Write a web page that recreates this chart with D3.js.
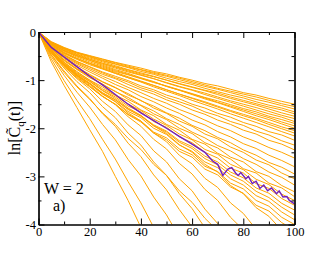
<!DOCTYPE html>
<html>
<head>
<meta charset="utf-8">
<script src="https://cdn.jsdelivr.net/npm/d3@7"></script>
<style>
  body { margin: 0; background: #fff; }
  svg { display: block; }
</style>
</head>
<body>
<script>
// sample times for the orange runs
const times = [0, 5, 10, 15, 20, 25, 30, 35, 40, 45, 50, 55, 60, 65, 70, 75, 80, 85, 90, 95, 100];

// orange runs: -ln C(t) in hundredths, one row per run
const orangeRuns = [
  [0,20,32,42,49,56,63,69,75,82,87,94,100,107,112,119,126,131,138,144,150],
  [0,21,33,43,50,57,64,71,78,84,90,96,103,110,117,123,129,135,142,149,155],
  [0,21,34,43,51,59,66,73,79,86,92,99,106,113,119,126,133,140,146,153,160],
  [0,22,34,44,52,60,67,74,82,88,96,103,109,117,124,131,137,145,152,158,166],
  [0,24,38,49,57,65,72,79,87,93,100,107,114,121,127,135,142,149,156,162,170],
  [0,22,35,46,54,62,70,78,85,92,100,108,115,122,130,138,145,152,160,168,175],
  [0,25,39,50,59,67,75,83,90,97,105,113,120,127,135,143,150,157,165,173,180],
  [0,22,36,47,56,65,73,81,89,97,106,114,121,130,138,146,154,162,170,177,186],
  [0,28,44,55,65,73,82,89,97,105,112,120,128,136,143,151,159,166,175,182,190],
  [0,25,40,52,62,71,80,88,96,104,113,121,129,137,146,154,162,170,178,187,195],
  [0,23,38,49,59,69,78,86,95,103,113,121,130,139,147,156,165,174,182,191,200],
  [0,28,45,57,68,77,86,95,103,111,120,129,137,145,154,163,171,179,188,197,205],
  [0,26,42,55,65,75,84,93,102,111,120,129,138,147,156,165,174,182,192,201,210],
  [0,26,43,55,66,76,86,95,104,114,123,132,142,151,160,170,179,188,197,207,216],
  [0,30,47,61,72,83,92,101,112,120,131,139,150,158,169,177,188,196,207,214,225],
  [0,30,48,62,73,85,95,104,116,124,136,145,154,166,174,186,194,206,214,226,235],
  [0,31,49,64,76,88,97,109,120,129,141,150,162,171,183,192,204,212,225,233,245],
  [0,31,51,66,79,92,103,115,126,138,148,161,171,183,195,205,218,228,240,250,262],
  [0,32,53,69,83,96,109,120,134,145,158,169,183,193,207,218,232,242,256,267,280],
  [0,35,58,76,90,104,116,128,143,154,168,179,194,205,219,230,245,256,271,281,295],
  [0,34,55,73,88,103,115,131,142,158,169,185,196,212,222,239,250,266,276,293,305],
  [0,36,60,78,95,108,124,136,152,164,180,192,208,220,236,247,263,275,291,302,318],
  [0,35,58,77,93,110,123,140,153,170,182,200,211,230,241,260,270,290,300,319,332],
  [0,38,63,82,100,114,131,144,162,174,192,204,223,233,252,264,284,293,314,324,342],
  [0,38,63,84,100,118,132,150,163,181,194,212,224,244,254,275,286,306,317,337,350],
  [0,39,64,86,102,121,135,154,166,186,198,218,230,250,262,283,293,315,325,346,360],
  [0,42,69,91,108,127,141,160,174,193,206,226,238,258,270,291,303,324,335,356,370],
  [0,40,66,89,106,126,141,161,175,195,208,229,242,263,276,297,310,331,344,364,380],
  [0,40,67,90,108,129,144,165,178,200,213,235,248,270,282,305,318,340,352,374,390],
  [0,43,72,95,114,134,150,171,185,208,220,243,255,279,290,314,326,350,362,385,400],
  [0,41,70,93,113,134,150,172,187,210,224,248,260,285,297,322,335,360,372,396,412],
  [0,40,66,87,103,122,138,158,173,195,211,234,250,275,291,319,336,365,383,412,435],
  [0,40,67,89,107,128,145,168,185,210,228,256,274,304,323,355,377,410,433,465,495],
  [0,41,69,91,111,133,151,176,196,223,243,273,295,327,350,385,411,446,478,510,545],
  [0,43,72,97,118,144,165,193,215,247,270,305,330,368,398,433,469,505,540,580,620],
  [0,48,84,114,140,168,192,221,244,275,298,330,354,387,413,442,470,500,530,560,590],
  [0,47,81,112,138,170,196,231,259,297,328,369,405,445,485,525,570,615,660,705,750],
  [0,51,90,125,156,192,224,265,299,343,380,426,470,515,560,605,650,695,740,785,830],
  [0,56,101,142,180,223,264,311,355,406,458,510,560,610,660,710,760,810,860,910,960],
  [0,62,111,157,203,248,300,350,406,465,525,585,645,705,765,825,885,945,1005,1065,1125],
  [0,44,75,103,126,155,178,210,235,270,298,336,367,407,444,480,520,560,600,640,680]
];

// the averaged run (purple), its own time samples
const purpleT = [0,2,5,10,15,20,25,30,35,40,45,50,55,60,65,68,70,72,74,75.5,77,78,79,81,82,83.5,85,86.5,88,89.5,91,93,94,95.5,97,98,100];
const purpleV = [0,13,32,52,72,92,110,130,150,168,184,200,217,233,250,268,275,298,285,282,293,298,292,305,300,315,310,325,318,330,324,336,330,343,342,350,357];

// axis ticks
const xMajor = [0, 20, 40, 60, 80, 100];
const xMinor = [10, 30, 50, 70, 90];
const yMajor = [0, -1, -2, -3, -4];
const yMinor = [-0.5, -1.5, -2.5, -3.5];

const W = 332, H = 257;
const pLeft = 38.5, pRight = 294.5, pTop = 32, pBottom = 224.5;
const serif = "'Liberation Serif', 'Times New Roman', serif";

const svg = d3.select("body").append("svg")
    .attr("width", W)
    .attr("height", H);

const x = d3.scaleLinear().domain([0, 100]).range([pLeft, pRight]);
const y = d3.scaleLinear().domain([-4, 0]).range([pBottom, pTop]);

svg.append("clipPath").attr("id", "plot")
  .append("rect")
    .attr("x", pLeft).attr("y", pTop)
    .attr("width", pRight - pLeft).attr("height", pBottom - pTop);

const plot = svg.append("g").attr("clip-path", "url(#plot)");

const orangeLine = d3.line()
    .x((d, i) => x(times[i]))
    .y(d => y(-d / 100));

plot.selectAll("path.run")
    .data(orangeRuns)
    .enter()
    .append("path")
    .attr("class", "run")
    .attr("d", orangeLine)
    .attr("fill", "none")
    .attr("stroke", "#ffa500")
    .attr("stroke-width", 1);

const purpleLine = d3.line()
    .x((d, i) => x(purpleT[i]))
    .y(d => y(-d / 100));

plot.append("path")
    .datum(purpleV)
    .attr("d", purpleLine)
    .attr("fill", "none")
    .attr("stroke", "#7221bc")
    .attr("stroke-width", 1.4);

// axes, ticks pointing inward on all four sides
function styleAxis(g) {
    g.selectAll("path.domain").attr("stroke", "#000").attr("stroke-width", 1.2);
    g.selectAll(".tick line").attr("stroke", "#000");
    g.selectAll("text")
        .attr("font-family", serif)
        .attr("font-size", 12.5)
        .attr("fill", "#000");
}

const fmt = d => String(d);

svg.append("g")
    .attr("transform", `translate(0,${pBottom})`)
    .call(d3.axisBottom(x).tickValues(xMajor).tickFormat(fmt).tickSizeInner(-6).tickSizeOuter(0).tickPadding(3))
    .call(styleAxis);
svg.append("g")
    .attr("transform", `translate(0,${pBottom})`)
    .call(d3.axisBottom(x).tickValues(xMinor).tickFormat("").tickSizeInner(-3).tickSizeOuter(0))
    .call(styleAxis);

svg.append("g")
    .attr("transform", `translate(0,${pTop})`)
    .call(d3.axisTop(x).tickValues(xMajor).tickFormat("").tickSizeInner(-6).tickSizeOuter(0))
    .call(styleAxis);
svg.append("g")
    .attr("transform", `translate(0,${pTop})`)
    .call(d3.axisTop(x).tickValues(xMinor).tickFormat("").tickSizeInner(-3).tickSizeOuter(0))
    .call(styleAxis);

svg.append("g")
    .attr("transform", `translate(${pLeft},0)`)
    .call(d3.axisLeft(y).tickValues(yMajor).tickFormat(fmt).tickSizeInner(-6).tickSizeOuter(0).tickPadding(2.5))
    .call(styleAxis);
svg.append("g")
    .attr("transform", `translate(${pLeft},0)`)
    .call(d3.axisLeft(y).tickValues(yMinor).tickFormat("").tickSizeInner(-3).tickSizeOuter(0))
    .call(styleAxis);

svg.append("g")
    .attr("transform", `translate(${pRight},0)`)
    .call(d3.axisRight(y).tickValues(yMajor).tickFormat("").tickSizeInner(-6).tickSizeOuter(0))
    .call(styleAxis);
svg.append("g")
    .attr("transform", `translate(${pRight},0)`)
    .call(d3.axisRight(y).tickValues(yMinor).tickFormat("").tickSizeInner(-3).tickSizeOuter(0))
    .call(styleAxis);

// y axis title: ln[C~_q(t)]
const ytitle = svg.append("text")
    .attr("transform", "translate(20,128) rotate(-90)")
    .attr("text-anchor", "middle")
    .attr("font-family", serif)
    .attr("font-size", 16)
    .attr("fill", "#000");
ytitle.append("tspan").text("ln[C\u0303");
ytitle.append("tspan").attr("dy", 4).attr("font-size", 11).text("q");
ytitle.append("tspan").attr("dy", -4).text("(t)]");

// panel annotations
svg.append("text")
    .attr("x", 44).attr("y", 194)
    .attr("font-family", serif)
    .attr("font-size", 16)
    .text("W = 2");
svg.append("text")
    .attr("x", 53).attr("y", 211)
    .attr("font-family", serif)
    .attr("font-size", 16)
    .text("a)");
</script>
</body>
</html>
